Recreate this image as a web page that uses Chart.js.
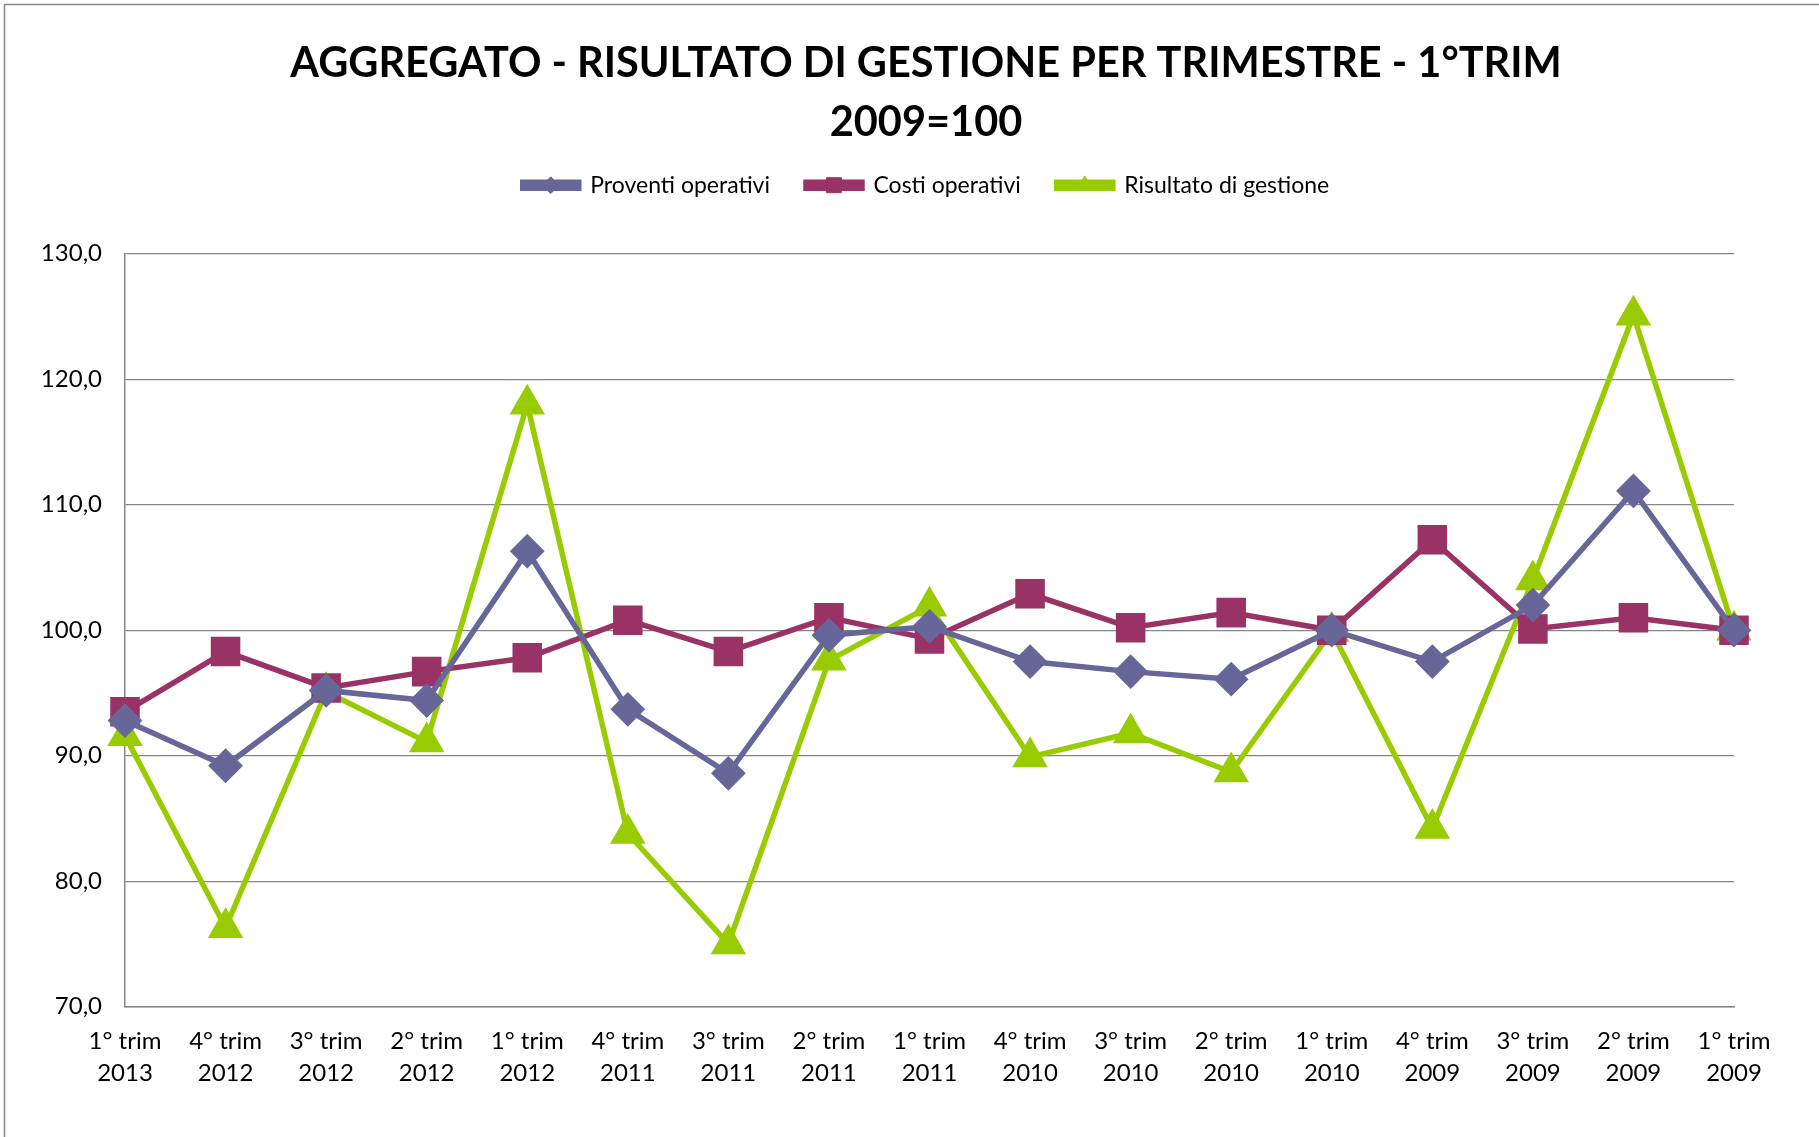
<!DOCTYPE html>
<html>
<head>
<meta charset="utf-8">
<script src="https://cdn.jsdelivr.net/npm/chart.js@4"></script>
<style>
  html, body { margin: 0; padding: 0; background: #fff; }
  #wrap { width: 1819px; height: 1137px; }
</style>
</head>
<body>
<div id="wrap"><canvas id="trimChart" width="1819" height="1137"></canvas></div>
<script>
// quarters, newest first (as in the original sheet)
const quarters = [
    ['1° trim', '2013'], ['4° trim', '2012'], ['3° trim', '2012'], ['2° trim', '2012'],
    ['1° trim', '2012'], ['4° trim', '2011'], ['3° trim', '2011'], ['2° trim', '2011'],
    ['1° trim', '2011'], ['4° trim', '2010'], ['3° trim', '2010'], ['2° trim', '2010'],
    ['1° trim', '2010'], ['4° trim', '2009'], ['3° trim', '2009'], ['2° trim', '2009'],
    ['1° trim', '2009']
];
const proventi = [92.8, 89.2, 95.2, 94.4, 106.3, 93.7, 88.6, 99.6, 100.3, 97.5, 96.7, 96.1, 100.0, 97.5, 102.0, 111.1, 100.0];
const costi = [93.5, 98.3, 95.4, 96.7, 97.8, 100.8, 98.3, 101.0, 99.3, 102.9, 100.2, 101.4, 100.0, 107.2, 100.1, 101.0, 100.0];
const risultato = [91.6, 76.3, 95.1, 91.1, 118.0, 83.8, 75.0, 97.6, 101.9, 89.9, 91.8, 88.7, 99.9, 84.2, 104.0, 125.1, 100.0];
const yTicks = [70, 80, 90, 100, 110, 120, 130];

const FONT = 'Lato, "Open Sans", sans-serif';

// white page + frame like the excel chart object
const frame = {
    id: 'frame',
    beforeDraw(chart) {
        const c = chart.ctx;
        c.save();
        c.fillStyle = '#fff';
        c.fillRect(0, 0, chart.width, chart.height);
        c.strokeStyle = '#868686';
        c.lineWidth = 1.5;
        c.beginPath();
        c.moveTo(4.5, chart.height);
        c.lineTo(4.5, 4.5);
        c.lineTo(chart.width, 4.5);
        c.stroke();
        c.restore();
    }
};

// more room between the legend and the plot
const legendGap = {
    id: 'legendGap',
    beforeInit(chart) {
        const fit = chart.legend.fit;
        chart.legend.fit = function () {
            fit.bind(chart.legend)();
            this.height += 24;
        };
    }
};

// excel centres title + legend a bit right of the plot centre
const headShift = {
    id: 'headShift',
    afterLayout(chart) {
        const dx = 49, dy = -23;
        const t = chart.titleBlock;
        if (t) { t.left += dx; t.right += dx; }
        const lg = chart.legend;
        if (lg) {
            lg.left += dx; lg.right += dx;
            lg.top += dy; lg.bottom += dy;
            (lg.legendHitBoxes || []).forEach(b => { b.left += dx; });
        }
    }
};

// draw the series marker over the middle of each legend line
const legendMarkers = {
    id: 'legendMarkers',
    afterDraw(chart) {
        const lg = chart.legend;
        if (!lg || !lg.legendHitBoxes) return;
        const c = chart.ctx;
        lg.legendHitBoxes.forEach((box, i) => {
            const ds = chart.data.datasets[i];
            const bw = lg.options.labels.boxWidth;
            const x = box.left + bw / 2;
            const y = box.top + box.height / 2;
            c.save();
            c.fillStyle = ds.borderColor;
            c.strokeStyle = ds.borderColor;
            Chart.helpers.drawPoint(c, {
                pointStyle: ds.pointStyle,
                radius: ds.pointRadius * 0.62,
                rotation: 0,
                borderWidth: 1
            }, x, y);
            c.restore();
        });
    }
};

const ctx = document.getElementById('trimChart').getContext('2d');
const trimChart = new Chart(ctx, {
    type: 'line',
    data: {
        labels: quarters,
        datasets: [
            {
                label: 'Proventi operativi',
                data: proventi,
                borderColor: '#666699',
                backgroundColor: '#666699',
                borderWidth: 5.5,
                pointStyle: 'rectRot',
                pointRadius: 13.5,
                pointHoverRadius: 13.5,
                tension: 0
            },
            {
                label: 'Costi operativi',
                data: costi,
                borderColor: '#993366',
                backgroundColor: '#993366',
                borderWidth: 5.5,
                pointStyle: 'rect',
                pointRadius: 17,
                pointHoverRadius: 17,
                tension: 0
            },
            {
                label: 'Risultato di gestione',
                data: risultato,
                borderColor: '#99CC00',
                backgroundColor: '#99CC00',
                borderWidth: 5.5,
                pointStyle: 'triangle',
                pointRadius: 15,
                pointHoverRadius: 15,
                tension: 0
            }
        ]
    },
    options: {
        responsive: false,
        maintainAspectRatio: false,
        animation: false,
        layout: { padding: { left: 20, right: 85, top: 30, bottom: 29 } },
        plugins: {
            title: {
                display: true,
                text: ['AGGREGATO - RISULTATO DI GESTIONE PER TRIMESTRE - 1°TRIM', '2009=100'],
                color: '#000',
                font: { family: FONT, size: 41.5, weight: 'bold', lineHeight: 1.43 },
                padding: { top: 4, bottom: 8 }
            },
            legend: {
                display: true,
                position: 'top',
                labels: {
                    color: '#000',
                    font: { family: FONT, size: 23 },
                    boxWidth: 56,
                    boxHeight: 6,
                    padding: 36
                },
                onClick: null
            },
            tooltip: { enabled: false }
        },
        scales: {
            x: {
                offset: false,
                grid: { display: false, drawTicks: false },
                border: { color: '#868686', width: 1.5 },
                ticks: {
                    color: '#000',
                    font: { family: FONT, size: 24, lineHeight: 1.36 },
                    maxRotation: 0,
                    autoSkip: false,
                    padding: 18
                }
            },
            y: {
                min: yTicks[0],
                max: yTicks[yTicks.length - 1],
                afterBuildTicks(axis) {
                    axis.ticks = yTicks.map(v => ({ value: v }));
                },
                afterFit(axis) {
                    axis.width = 105;
                },
                grid: { color: '#868686', lineWidth: 1.2, drawTicks: false },
                border: { color: '#868686', width: 1.5 },
                ticks: {
                    color: '#000',
                    font: { family: FONT, size: 24 },
                    padding: 23,
                    callback: v => v.toFixed(1).replace('.', ',')
                }
            }
        }
    },
    plugins: [frame, legendGap, headShift, legendMarkers]
});
</script>
</body>
</html>
